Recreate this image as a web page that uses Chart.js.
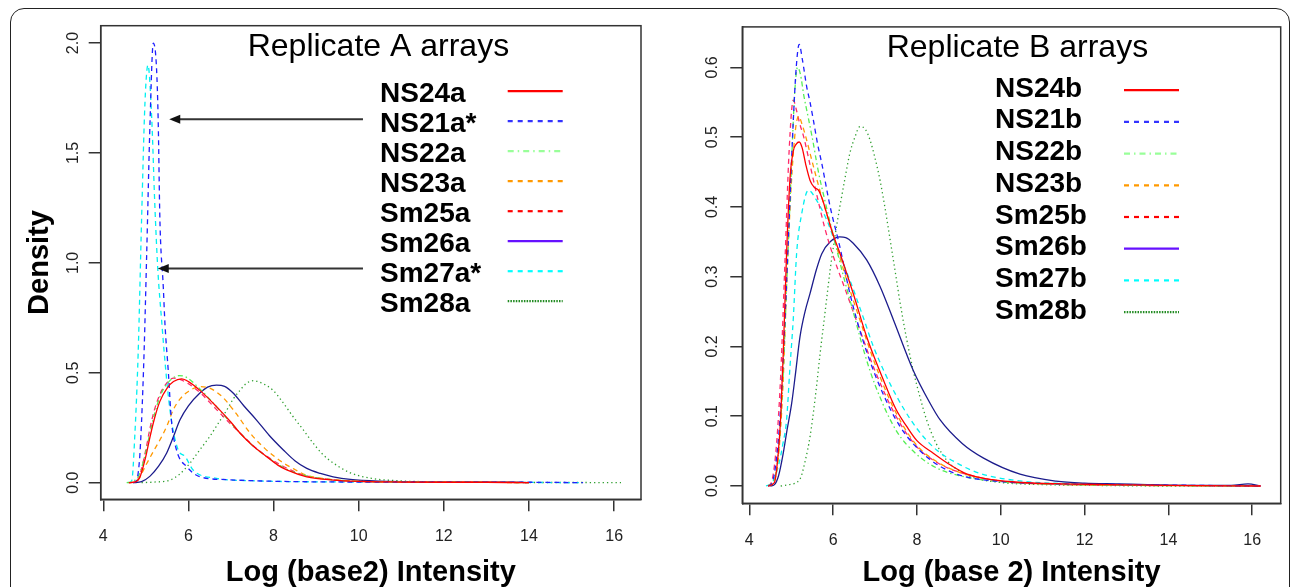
<!DOCTYPE html>
<html>
<head>
<meta charset="utf-8">
<script src="https://cdn.jsdelivr.net/npm/chart.js@4.4.1/dist/chart.umd.min.js"></script>
<style>
  html, body { margin: 0; padding: 0; background: #fff; }
  #wrap { position: relative; width: 1292px; height: 587px; overflow: hidden; }
  #frame { position: absolute; left: 10px; top: 8px; width: 1280px; height: 700px;
           border: 1.5px solid #222; border-radius: 14px; box-sizing: border-box; }
  #left { position: absolute; left: 0; top: 0; }
  #right { position: absolute; left: 690px; top: 0; }
</style>
</head>
<body>
<div id="wrap">
  <div id="frame"></div>
  <canvas id="left" width="690" height="587"></canvas>
  <canvas id="right" width="602" height="587"></canvas>
</div>
<script>
// ---- panel A: replicate A arrays ----
const namesA = ['NS24a', 'NS21a*', 'NS22a', 'NS23a', 'Sm25a', 'Sm26a', 'Sm27a*', 'Sm28a'];

const ns24aX = [4.6, 4.75, 4.85, 5.0, 5.1, 5.2, 5.33, 5.5, 5.65, 5.84, 6.0, 6.27, 6.66, 7.0, 7.21, 7.5, 7.84, 8.1, 8.31, 8.78, 9.4, 10.0, 11.0, 12.0, 13.0, 14.0];
const ns24aY = [0, 0.004, 0.02, 0.12, 0.21, 0.29, 0.37, 0.43, 0.46, 0.472, 0.46, 0.42, 0.346, 0.275, 0.226, 0.17, 0.118, 0.08, 0.058, 0.027, 0.012, 0.006, 0.003, 0.002, 0.002, 0];
const ns21aX = [4.7, 4.78, 4.85, 4.9, 4.96, 5.02, 5.1, 5.175, 5.25, 5.29, 5.33, 5.41, 5.45, 5.53, 5.6, 5.72, 5.96, 6.27, 6.9, 7.5, 8.5, 10.0, 12.0, 14.0, 15.27];
const ns21aY = [0, 0.01, 0.1, 0.28, 0.6, 1.04, 1.65, 2.0, 1.89, 1.65, 1.2, 0.89, 0.72, 0.5, 0.285, 0.149, 0.073, 0.027, 0.014, 0.009, 0.005, 0.003, 0.002, 0.002, 0];
const ns22aX = [4.55, 4.7, 4.85, 5.0, 5.1, 5.2, 5.35, 5.5, 5.65, 5.78, 5.95, 6.2, 6.5, 6.8, 7.1, 7.5, 7.9, 8.3, 8.8, 9.4, 10.0, 11.0, 12.0, 13.0, 14.0];
const ns22aY = [0, 0.006, 0.04, 0.14, 0.23, 0.31, 0.4, 0.45, 0.478, 0.487, 0.48, 0.44, 0.38, 0.315, 0.25, 0.17, 0.11, 0.062, 0.03, 0.013, 0.006, 0.003, 0.002, 0.002, 0];
const ns23aX = [4.6, 4.8, 5.0, 5.2, 5.33, 5.5, 5.64, 5.8, 6.0, 6.27, 6.5, 6.8, 7.1, 7.45, 7.8, 8.23, 8.5, 8.78, 9.2, 9.8, 10.5, 11.5, 12.5, 13.5, 14.0];
const ns23aY = [0, 0.01, 0.08, 0.15, 0.194, 0.26, 0.33, 0.38, 0.415, 0.437, 0.43, 0.39, 0.32, 0.226, 0.155, 0.09, 0.06, 0.034, 0.018, 0.008, 0.004, 0.002, 0.002, 0.001, 0];
const sm25aX = [4.6, 4.75, 4.85, 5.0, 5.1, 5.2, 5.35, 5.5, 5.65, 5.8, 6.0, 6.3, 6.6, 7.0, 7.3, 7.6, 8.0, 8.4, 8.8, 9.4, 10.0, 11.0, 12.0, 13.0, 14.0];
const sm25aY = [0, 0.005, 0.03, 0.15, 0.25, 0.33, 0.41, 0.455, 0.476, 0.47, 0.45, 0.405, 0.345, 0.265, 0.21, 0.155, 0.1, 0.058, 0.03, 0.013, 0.006, 0.003, 0.002, 0.002, 0];
const sm26aX = [4.7, 4.9, 5.1, 5.3, 5.49, 5.65, 5.8, 6.0, 6.27, 6.45, 6.66, 6.85, 7.05, 7.3, 7.6, 7.9, 8.23, 8.5, 8.78, 9.1, 9.4, 9.8, 10.5, 11.5, 12.5, 13.5, 14.0];
const sm26aY = [0, 0.005, 0.03, 0.075, 0.135, 0.21, 0.285, 0.35, 0.408, 0.435, 0.444, 0.438, 0.408, 0.35, 0.285, 0.215, 0.149, 0.1, 0.065, 0.042, 0.027, 0.015, 0.007, 0.004, 0.003, 0.003, 0];
const sm27aX = [4.6, 4.67, 4.74, 4.82, 4.9, 4.98, 5.05, 5.14, 5.21, 5.28, 5.37, 5.49, 5.6, 5.76, 5.92, 6.11, 6.66, 7.5, 9.0, 11.0, 13.0, 15.2];
const sm27aY = [0, 0.01, 0.21, 0.59, 1.195, 1.73, 1.9, 1.65, 1.27, 0.975, 0.74, 0.467, 0.285, 0.149, 0.12, 0.058, 0.02, 0.009, 0.004, 0.003, 0.002, 0];
const sm28aX = [4.9, 5.2, 5.57, 5.8, 6.04, 6.27, 6.5, 6.7, 6.9, 7.05, 7.21, 7.35, 7.52, 7.7, 7.99, 8.2, 8.46, 8.7, 8.93, 9.15, 9.4, 9.8, 10.3, 11.0, 12.0, 13.0, 14.0, 15.0, 16.16];
const sm28aY = [0, 0.003, 0.012, 0.04, 0.09, 0.15, 0.21, 0.27, 0.33, 0.38, 0.42, 0.45, 0.464, 0.455, 0.42, 0.37, 0.3, 0.24, 0.18, 0.13, 0.09, 0.045, 0.02, 0.008, 0.004, 0.002, 0.001, 0.001, 0];

const xsA = [ns24aX, ns21aX, ns22aX, ns23aX, sm25aX, sm26aX, sm27aX, sm28aX];
const ysA = [ns24aY, ns21aY, ns22aY, ns23aY, sm25aY, sm26aY, sm27aY, sm28aY];
const xTicksA = [4, 6, 8, 10, 12, 14, 16];
const yTicksA = [0, 0.5, 1.0, 1.5, 2.0];

// arrows pointing at the two odd arrays (data units)
const arrowY = [1.653, 0.975];
const arrowTipX = [5.55, 5.28];
const arrowTailX = [10.1, 10.1];

// ---- panel B: replicate B arrays ----
const namesB = ['NS24b', 'NS21b', 'NS22b', 'NS23b', 'Sm25b', 'Sm26b', 'Sm27b', 'Sm28b'];

const ns24bX = [4.45, 4.6, 4.69, 4.75, 4.81, 4.89, 4.97, 5.05, 5.12, 5.19, 5.26, 5.35, 5.45, 5.55, 5.65, 5.75, 5.85, 6.0, 6.16, 6.48, 6.8, 7.2, 7.5, 7.76, 8.0, 8.39, 8.8, 9.2, 9.8, 10.5, 11.5, 12.5, 14.0, 16.2];
const ns24bY = [0, 0.005, 0.047, 0.1, 0.19, 0.334, 0.44, 0.48, 0.49, 0.493, 0.485, 0.46, 0.438, 0.428, 0.424, 0.41, 0.39, 0.36, 0.334, 0.276, 0.214, 0.152, 0.11, 0.085, 0.065, 0.047, 0.03, 0.017, 0.009, 0.005, 0.003, 0.002, 0.001, 0];
const ns21bX = [4.45, 4.53, 4.63, 4.73, 4.85, 4.95, 5.05, 5.12, 5.19, 5.27, 5.37, 5.45, 5.53, 5.63, 5.73, 5.93, 6.16, 6.4, 6.71, 7.12, 7.6, 8.23, 8.95, 10.1, 11.5, 13.0, 14.5, 16.2];
const ns21bY = [0, 0.003, 0.03, 0.095, 0.238, 0.381, 0.524, 0.6, 0.633, 0.61, 0.572, 0.55, 0.524, 0.49, 0.462, 0.4, 0.343, 0.276, 0.209, 0.142, 0.085, 0.042, 0.017, 0.006, 0.003, 0.002, 0.001, 0];
const ns22bX = [4.45, 4.6, 4.7, 4.8, 4.9, 5.0, 5.08, 5.15, 5.22, 5.3, 5.4, 5.5, 5.65, 5.8, 6.0, 6.25, 6.5, 6.75, 7.0, 7.5, 8.0, 8.5, 9.0, 10.0, 11.0, 13.0, 16.2];
const ns22bY = [0, 0.01, 0.05, 0.15, 0.3, 0.45, 0.56, 0.6, 0.59, 0.56, 0.53, 0.5, 0.45, 0.41, 0.36, 0.3, 0.245, 0.19, 0.145, 0.08, 0.045, 0.025, 0.015, 0.006, 0.003, 0.001, 0];
const ns23bX = [4.45, 4.6, 4.7, 4.8, 4.9, 5.0, 5.1, 5.18, 5.25, 5.35, 5.5, 5.7, 6.0, 6.3, 6.6, 7.0, 7.5, 8.0, 8.5, 9.0, 10.0, 11.0, 13.0, 16.2];
const ns23bY = [0, 0.008, 0.045, 0.14, 0.3, 0.43, 0.51, 0.53, 0.52, 0.5, 0.465, 0.42, 0.36, 0.3, 0.245, 0.175, 0.105, 0.058, 0.034, 0.02, 0.007, 0.003, 0.001, 0];
const sm25bX = [4.45, 4.55, 4.65, 4.75, 4.85, 4.95, 5.05, 5.12, 5.2, 5.3, 5.45, 5.6, 5.8, 6.0, 6.3, 6.6, 7.0, 7.5, 8.0, 8.5, 9.0, 10.0, 11.0, 13.0, 16.2];
const sm25bY = [0, 0.01, 0.06, 0.16, 0.32, 0.48, 0.553, 0.54, 0.52, 0.5, 0.46, 0.42, 0.37, 0.33, 0.28, 0.23, 0.165, 0.1, 0.056, 0.033, 0.02, 0.007, 0.003, 0.001, 0];
const sm26bX = [4.5, 4.6, 4.7, 4.81, 4.9, 5.01, 5.1, 5.21, 5.33, 5.45, 5.6, 5.73, 5.93, 6.16, 6.3, 6.48, 6.8, 7.12, 7.44, 7.91, 8.3, 8.55, 9.08, 9.59, 10.46, 11.32, 12.0, 12.8, 13.5, 14.5, 15.5, 15.9, 16.2];
const sm26bY = [0, 0.002, 0.015, 0.047, 0.08, 0.118, 0.16, 0.214, 0.25, 0.276, 0.31, 0.333, 0.35, 0.357, 0.356, 0.348, 0.324, 0.286, 0.238, 0.166, 0.12, 0.095, 0.061, 0.04, 0.017, 0.007, 0.004, 0.003, 0.002, 0.001, 0.001, 0.003, 0];
const sm27bX = [4.4, 4.55, 4.7, 4.8, 4.89, 4.97, 5.05, 5.13, 5.25, 5.41, 5.6, 5.85, 6.1, 6.4, 6.7, 6.96, 7.25, 7.52, 7.85, 8.15, 8.5, 8.95, 9.5, 10.5, 12.0, 14.0, 16.2];
const sm27bY = [0, 0.005, 0.03, 0.06, 0.095, 0.17, 0.24, 0.334, 0.39, 0.424, 0.41, 0.381, 0.34, 0.295, 0.245, 0.2, 0.16, 0.128, 0.095, 0.071, 0.05, 0.033, 0.018, 0.007, 0.003, 0.001, 0];
const sm28bX = [4.75, 4.95, 5.21, 5.33, 5.45, 5.57, 5.69, 5.81, 5.93, 6.05, 6.16, 6.28, 6.4, 6.52, 6.64, 6.76, 6.88, 7.0, 7.12, 7.24, 7.36, 7.48, 7.6, 7.75, 7.91, 8.07, 8.23, 8.45, 8.71, 9.0, 9.35, 10.0, 11.0, 12.0, 14.0, 16.2];
const sm28bY = [0, 0.002, 0.01, 0.035, 0.071, 0.125, 0.19, 0.25, 0.31, 0.36, 0.4, 0.44, 0.477, 0.5, 0.515, 0.512, 0.496, 0.47, 0.438, 0.398, 0.353, 0.308, 0.262, 0.212, 0.166, 0.128, 0.095, 0.062, 0.037, 0.022, 0.012, 0.005, 0.002, 0.001, 0, 0];

const xsB = [ns24bX, ns21bX, ns22bX, ns23bX, sm25bX, sm26bX, sm27bX, sm28bX];
const ysB = [ns24bY, ns21bY, ns22bY, ns23bY, sm25bY, sm26bY, sm27bY, sm28bY];
const xTicksB = [4, 6, 8, 10, 12, 14, 16];
const yTicksB = [0, 0.1, 0.2, 0.3, 0.4, 0.5, 0.6];

// ---- styles (same order in both panels) ----
const lineColors = ['#ff0000', '#1f1fff', '#55ee55', '#ff9900', '#ff2a6a', '#1c1c8c', '#00f0f0', '#2e9e2e'];
const keyColors  = ['#ff0000', '#3333ff', '#99ff99', '#ff9900', '#ff0000', '#6611ff', '#00ffff', '#228b22'];
const lineDash = [[], [5, 4], [5, 3, 1.5, 3], [5, 4], [5, 4], [], [5, 4], [1.3, 3]];
const keyDash  = [[], [5, 5], [6, 4, 1.5, 4], [5, 5], [5, 5], [], [5, 5], [1.5, 1.2]];

const FONT = "'Liberation Sans', Arial, sans-serif";

function decoPlugin(cfg) {
  return {
    id: 'deco',
    afterDraw(chart) {
      const ctx = chart.ctx;
      const ca = chart.chartArea;
      ctx.save();
      // plot box
      ctx.strokeStyle = '#333';
      ctx.lineWidth = 1.5;
      ctx.setLineDash([]);
      ctx.strokeRect(ca.left, ca.top, ca.right - ca.left, ca.bottom - ca.top);
      // panel title
      ctx.fillStyle = '#000';
      ctx.font = '32px ' + FONT;
      ctx.textAlign = 'left';
      ctx.textBaseline = 'alphabetic';
      ctx.fillText(cfg.title, cfg.titleX, cfg.titleY);
      // legend
      ctx.font = 'bold 28px ' + FONT;
      cfg.names.forEach((n, i) => {
        const y = cfg.legY + i * cfg.rowH;
        ctx.fillStyle = '#000';
        ctx.fillText(n, cfg.legX, y);
        ctx.strokeStyle = keyColors[i];
        ctx.lineWidth = 2.2;
        ctx.setLineDash(keyDash[i]);
        ctx.beginPath();
        ctx.moveTo(cfg.keyX0, y + cfg.keyDy);
        ctx.lineTo(cfg.keyX1, y + cfg.keyDy);
        ctx.stroke();
      });
      // arrows
      if (cfg.arrows) {
        const sx = chart.scales.x, sy = chart.scales.y;
        ctx.setLineDash([]);
        arrowY.forEach((v, i) => {
          const y = sy.getPixelForValue(v);
          const x0 = sx.getPixelForValue(arrowTailX[i]);
          const x1 = sx.getPixelForValue(arrowTipX[i]);
          ctx.strokeStyle = '#333';
          ctx.lineWidth = 2;
          ctx.beginPath();
          ctx.moveTo(x0, y);
          ctx.lineTo(x1 + 9, y);
          ctx.stroke();
          ctx.fillStyle = '#111';
          ctx.beginPath();
          ctx.moveTo(x1, y);
          ctx.lineTo(x1 + 11, y - 4.5);
          ctx.lineTo(x1 + 11, y + 4.5);
          ctx.closePath();
          ctx.fill();
        });
      }
      ctx.restore();
    }
  };
}

function buildChart(id, p) {
  const datasets = p.names.map((n, i) => ({
    label: n,
    data: p.xs[i].map((x, j) => ({ x: x, y: p.ys[i][j] })),
    borderColor: lineColors[i],
    borderDash: lineDash[i],
    borderWidth: 1.3,
    pointRadius: 0,
    cubicInterpolationMode: 'monotone',
    fill: false
  }));
  return new Chart(document.getElementById(id), {
    type: 'line',
    data: { datasets: datasets },
    options: {
      responsive: false,
      animation: false,
      layout: { padding: p.pad },
      plugins: { legend: { display: false }, tooltip: { enabled: false } },
      scales: {
        x: {
          type: 'linear',
          min: p.xMin, max: p.xMax,
          afterFit: s => { s.height = p.xAxisH; },
          afterBuildTicks: s => { s.ticks = p.xTicks.map(v => ({ value: v })); },
          grid: { drawOnChartArea: false, tickLength: 12, color: '#333', lineWidth: 1.5 },
          border: { color: '#333', width: 1.5 },
          ticks: { font: { family: FONT, size: 16 }, color: '#222', padding: 16, maxRotation: 0,
                   callback: v => String(v) },
          title: { display: true, text: p.xTitle, color: '#000', padding: { top: 0, bottom: 0 },
                   font: { family: FONT, size: 29, weight: 'bold', lineHeight: 1.0 } }
        },
        y: {
          type: 'linear',
          min: p.yMin, max: p.yMax,
          afterFit: s => { s.width = p.yAxisW; },
          afterBuildTicks: s => { s.ticks = p.yTicks.map(v => ({ value: v })); },
          grid: { drawOnChartArea: false, tickLength: 12, color: '#333', lineWidth: 1.5 },
          border: { color: '#333', width: 1.5 },
          ticks: { font: { family: FONT, size: 16 }, color: '#222', padding: p.yPad,
                   minRotation: 90, maxRotation: 90, crossAlign: 'center',
                   callback: v => v.toFixed(1) },
          title: { display: !!p.yTitle, text: p.yTitle || '', color: '#000', padding: { top: 23, bottom: 0 },
                   font: { family: FONT, size: 29, weight: 'bold' } }
        }
      }
    },
    plugins: [decoPlugin(p.deco)]
  });
}

buildChart('left', {
  names: namesA, xs: xsA, ys: ysA, xTicks: xTicksA, yTicks: yTicksA,
  xMin: 3.94, xMax: 16.63, yMin: -0.0755, yMax: 2.079,
  pad: { left: 0, top: 25.7, right: 49, bottom: 0 },
  xAxisH: 87.7, yAxisW: 100.7, yPad: 4,
  xTitle: 'Log (base2) Intensity', yTitle: 'Density',
  deco: { title: 'Replicate A arrays', titleX: 247.7, titleY: 56, names: namesA,
          legX: 380, legY: 101.7, rowH: 30, keyX0: 507.7, keyX1: 562.7, keyDy: -10.5, arrows: true }
});

buildChart('right', {
  names: namesB, xs: xsB, ys: ysB, xTicks: xTicksB, yTicks: yTicksB,
  xMin: 3.833, xMax: 16.68, yMin: -0.0248, yMax: 0.658,
  pad: { left: 0, top: 26.9, right: 11.3, bottom: 0 },
  xAxisH: 83.7, yAxisW: 52.3, yPad: 7,
  xTitle: 'Log (base 2) Intensity', yTitle: '',
  deco: { title: 'Replicate B arrays', titleX: 196.7, titleY: 57, names: namesB,
          legX: 305, legY: 96.7, rowH: 31.7, keyX0: 434, keyX1: 489, keyDy: -6.5, arrows: false }
});
</script>
</body>
</html>
